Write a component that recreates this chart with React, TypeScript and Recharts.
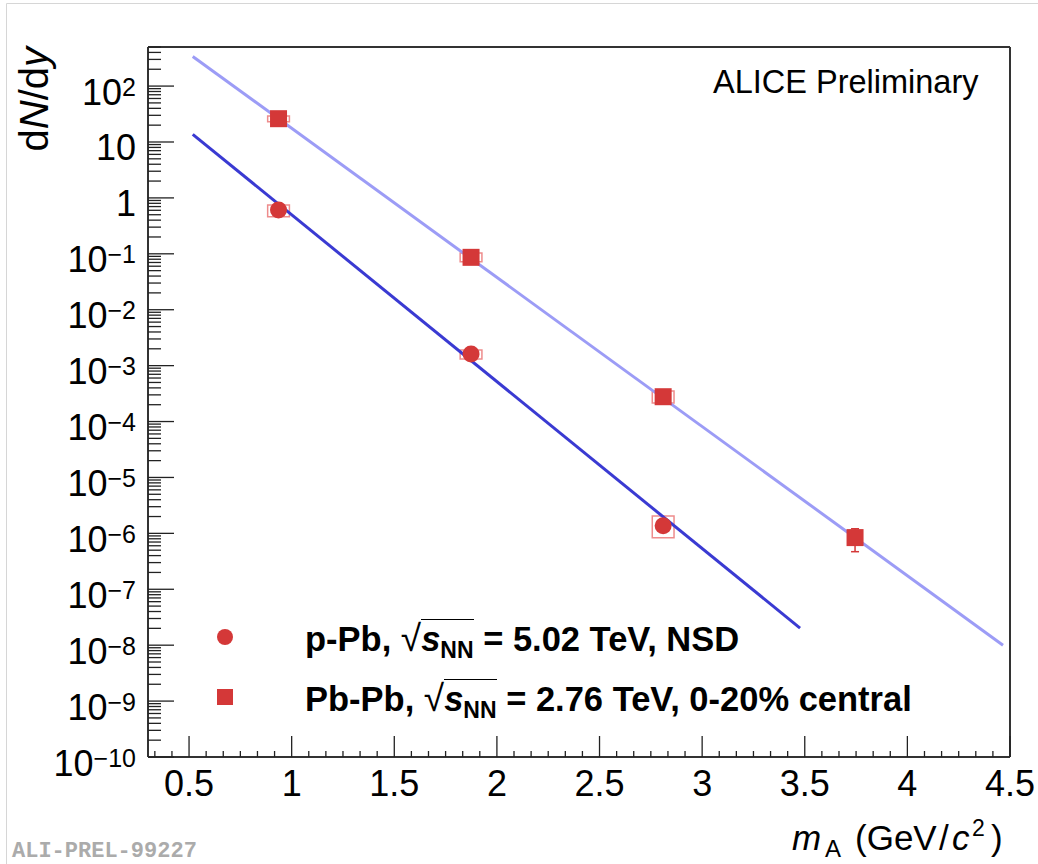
import React from 'react';
import {
  ComposedChart,
  Scatter,
  Line,
  XAxis,
  YAxis,
  ErrorBar,
  ReferenceArea,
  ReferenceLine,
  Legend,
  Label,
} from 'recharts';

// Nucleus masses (GeV/c^2): p, d, 3He, 4He
const nucleusMass = [0.936, 1.874, 2.81, 3.745];

// Pb-Pb, 0-20% central
const pbpbYield = [26.1, 0.0865, 2.78e-4, 8.4e-7];
const pbpbStatErr = [0.4, 0.002, 0.1e-4, 3.7e-7];
const pbpbSysLow = [23.1, 0.0723, 2.14e-4];
const pbpbSysHigh = [29.2, 0.103, 3.52e-4];

// p-Pb, NSD
const ppbYield = [0.607, 1.61e-3, 1.37e-6];
const ppbStatErr = [0.01, 0.03e-3, 0.1e-6];
const ppbSysLow = [0.461, 1.31e-3, 8.34e-7];
const ppbSysHigh = [0.746, 1.9e-3, 2.04e-6];

// Exponential fits, drawn between their end points
const pbpbFitMass = [0.518, 4.466];
const pbpbFitYield = [339, 1.0e-8];
const ppbFitMass = [0.518, 3.477];
const ppbFitYield = [13.7, 2.02e-8];

// Axes
const xMajorTicks = [0.5, 1, 1.5, 2, 2.5, 3, 3.5, 4, 4.5];
const xTickLabels = ['0.5', '1', '1.5', '2', '2.5', '3', '3.5', '4', '4.5'];
const yDecades = [-10, -9, -8, -7, -6, -5, -4, -3, -2, -1, 0, 1, 2];
const xDomain: [number, number] = [0.3, 4.5];
const yDomain: [number, number] = [1e-10, 500];

const legendRows = [
  { marker: 'circle', system: 'p-Pb', energy: '5.02', tail: 'NSD' },
  { marker: 'square', system: 'Pb-Pb', energy: '2.76', tail: '0-20% central' },
];

const RED = '#d43838';
const BOX = '#ee8c8c';
const LIGHT_BLUE = '#9c9cf6';
const DARK_BLUE = '#3a3ad2';
const FRAME = '#333333';
const TICK = '#222222';
const FONT = '"Liberation Sans", Arial, Helvetica, sans-serif';

const SYS_HALF_WIDTH = 0.053;

const pbpbPoints = nucleusMass.map((x, i) => ({ x, y: pbpbYield[i], err: pbpbStatErr[i] }));
const ppbPoints = ppbYield.map((y, i) => ({ x: nucleusMass[i], y, err: ppbStatErr[i] }));
const pbpbFit = pbpbFitMass.map((x, i) => ({ x, y: pbpbFitYield[i] }));
const ppbFit = ppbFitMass.map((x, i) => ({ x, y: ppbFitYield[i] }));

// minor ticks: x every 1/12, y at 2..9 within each decade
const xTicks: number[] = [];
for (let k = -2; k <= 48; k++) xTicks.push(0.5 + k / 12);
const yTicks: number[] = [];
yDecades.forEach((d) => {
  for (let m = 1; m <= 9; m++) {
    const v = m * Math.pow(10, d);
    if (v <= yDomain[1] * 1.0001) yTicks.push(v);
  }
});

const CircleMarker = (p: any) =>
  p.cx == null ? null : <circle cx={p.cx} cy={p.cy} r={8.5} fill={RED} />;
const SquareMarker = (p: any) =>
  p.cx == null ? null : (
    <rect x={p.cx - 8.5} y={p.cy - 8.5} width={17} height={17} fill={RED} />
  );

function powerLabel(n: number, x: number, y: number) {
  if (n === 0 || n === 1) {
    return (
      <text x={x} y={y} textAnchor="end" fontSize={36} fontFamily={FONT} fill="#000">
        {n === 0 ? '1' : '10'}
      </text>
    );
  }
  const exp = n < 0 ? '\u2212' + Math.abs(n) : String(n);
  return (
    <text x={x} y={y} textAnchor="end" fontSize={36} fontFamily={FONT} fill="#000">
      10
      <tspan dy={-9} fontSize={25}>
        {exp}
      </tspan>
    </text>
  );
}

const YTick = (props: any) => {
  const { x, y, payload } = props;
  const v = payload.value;
  const e = Math.log10(v);
  const major = Math.abs(e - Math.round(e)) < 1e-6;
  return (
    <g>
      <line x1={x} y1={y} x2={x + (major ? 26 : 13)} y2={y} stroke={TICK} strokeWidth={1.3} />
      {major && powerLabel(Math.round(e), x - 12, y + 18.5)}
    </g>
  );
};

const XTick = (props: any) => {
  const { x, y, payload } = props;
  const v = payload.value;
  const idx = xMajorTicks.findIndex((t) => Math.abs(t - v) < 1e-6);
  const major = idx >= 0;
  return (
    <g>
      <line x1={x} y1={y} x2={x} y2={y - (major ? 21 : 6)} stroke={TICK} strokeWidth={1.3} />
      {major && (
        <text x={x} y={y + 39} textAnchor="middle" fontSize={36} fontFamily={FONT} fill="#000">
          {xTickLabels[idx]}
        </text>
      )}
    </g>
  );
};

// x-axis title, laid out from the right end of the axis
const XTitle = (props: any) => {
  const vb = props.viewBox || { x: 148, y: 757, width: 862, height: 60 };
  const r = vb.x + vb.width;
  const base = vb.y + 93;
  return (
    <text y={base} fontSize={35} fontFamily={FONT} fill="#000" style={{ whiteSpace: 'pre' }}>
      <tspan x={r - 218} y={base} fontStyle="italic">
        m
      </tspan>
      <tspan x={r - 185} y={base + 7} fontSize={24}>
        A
      </tspan>
      <tspan x={r - 155} y={base}>
        (GeV
      </tspan>
      <tspan x={r - 71} y={base}>
        /
      </tspan>
      <tspan x={r - 58} y={base} fontStyle="italic">
        c
      </tspan>
      <tspan x={r - 38} y={base - 14} fontSize={23}>
        2
      </tspan>
      <tspan x={r - 19} y={base}>
        )
      </tspan>
    </text>
  );
};

const YTitle = (props: any) => {
  const vb = props.viewBox || { x: 0, y: 47, width: 148, height: 710 };
  return (
    <text
      transform={`translate(${vb.x + 48}, ${vb.y}) rotate(-90)`}
      textAnchor="end"
      fontSize={40}
      fontFamily={FONT}
      fill="#000"
    >
      d<tspan fontStyle="italic">N</tspan>/d<tspan fontStyle="italic">y</tspan>
    </text>
  );
};

const LegendContent = () => (
  <div style={{ position: 'relative', width: 760, height: 130, fontFamily: FONT }}>
    {legendRows.map((row, i) => {
      const baseline = 51 + i * 60;
      const markerY = 37 + i * 60;
      return (
        <React.Fragment key={row.system}>
          <svg
            width={24}
            height={24}
            style={{ position: 'absolute', left: 35 - 12, top: markerY - 12 }}
          >
            {row.marker === 'circle' ? (
              <circle cx={12} cy={12} r={8} fill={RED} />
            ) : (
              <rect x={4} y={4} width={16} height={16} fill={RED} />
            )}
          </svg>
          <div
            style={{
              position: 'absolute',
              left: 115,
              top: baseline - 32,
              fontSize: 34.5,
              lineHeight: '40px',
              fontWeight: 'bold',
              whiteSpace: 'pre',
              color: '#000',
            }}
          >
            <span>{row.system + ', '}</span>
            <span style={{ fontWeight: 'normal', fontSize: 37 }}>{'\u221A'}</span>
            <span style={{ borderTop: '1.5px solid #000' }}>
              <i>s</i>
              <span style={{ fontSize: 23, verticalAlign: '-7px', lineHeight: 0 }}>NN</span>
            </span>
            <span>{' = ' + row.energy + ' TeV, ' + row.tail}</span>
          </div>
        </React.Fragment>
      );
    })}
  </div>
);

export default function App() {
  return (
    <div
      style={{
        position: 'absolute',
        left: 0,
        top: 0,
        width: 1038,
        height: 864,
        background: '#ffffff',
        overflow: 'hidden',
      }}
    >
      <ComposedChart width={1038} height={864} margin={{ top: 47, right: 28, bottom: 47, left: 0 }}>
        <XAxis
          dataKey="x"
          type="number"
          domain={xDomain}
          allowDataOverflow
          ticks={xTicks}
          interval={0}
          tick={<XTick />}
          tickLine={false}
          tickSize={0}
          tickMargin={0}
          axisLine={{ stroke: FRAME, strokeWidth: 2 }}
          height={60}
        >
          <Label content={XTitle} />
        </XAxis>
        <YAxis
          type="number"
          scale="log"
          domain={yDomain}
          allowDataOverflow
          ticks={yTicks}
          interval={0}
          tick={<YTick />}
          tickLine={false}
          tickSize={0}
          tickMargin={0}
          axisLine={{ stroke: FRAME, strokeWidth: 2 }}
          width={148}
        >
          <Label content={YTitle} />
        </YAxis>

        {/* upper and right edges of the frame */}
        <ReferenceLine y={yDomain[1]} stroke={FRAME} strokeWidth={2} ifOverflow="visible" />
        <ReferenceLine x={xDomain[1]} stroke={FRAME} strokeWidth={2} ifOverflow="visible" />

        {pbpbSysLow.map((lo, i) => (
          <ReferenceArea
            key={'pbpb-sys-' + i}
            x1={nucleusMass[i] - SYS_HALF_WIDTH}
            x2={nucleusMass[i] + SYS_HALF_WIDTH}
            y1={lo}
            y2={pbpbSysHigh[i]}
            fill="none"
            fillOpacity={0}
            stroke={BOX}
            strokeWidth={1.5}
            ifOverflow="visible"
          />
        ))}
        {ppbSysLow.map((lo, i) => (
          <ReferenceArea
            key={'ppb-sys-' + i}
            x1={nucleusMass[i] - SYS_HALF_WIDTH}
            x2={nucleusMass[i] + SYS_HALF_WIDTH}
            y1={lo}
            y2={ppbSysHigh[i]}
            fill="none"
            fillOpacity={0}
            stroke={BOX}
            strokeWidth={1.5}
            ifOverflow="visible"
          />
        ))}

        <Scatter
          name="p-Pb"
          data={ppbPoints}
          dataKey="y"
          fill={RED}
          shape={CircleMarker}
          isAnimationActive={false}
        >
          <ErrorBar dataKey="err" direction="y" width={4} stroke={RED} strokeWidth={1.5} />
        </Scatter>
        <Scatter
          name="Pb-Pb"
          data={pbpbPoints}
          dataKey="y"
          fill={RED}
          shape={SquareMarker}
          isAnimationActive={false}
        >
          <ErrorBar dataKey="err" direction="y" width={4} stroke={RED} strokeWidth={1.5} />
        </Scatter>

        <Line
          data={ppbFit}
          dataKey="y"
          type="linear"
          stroke={DARK_BLUE}
          strokeWidth={3}
          dot={false}
          activeDot={false}
          legendType="none"
          isAnimationActive={false}
        />
        <Line
          data={pbpbFit}
          dataKey="y"
          type="linear"
          stroke={LIGHT_BLUE}
          strokeWidth={3}
          dot={false}
          activeDot={false}
          legendType="none"
          isAnimationActive={false}
        />

        <Legend
          layout="horizontal"
          verticalAlign="middle"
          align="center"
          content={<LegendContent />}
          wrapperStyle={{ left: 190, top: 600, width: 760, height: 130 }}
        />
      </ComposedChart>

      <svg
        width={1038}
        height={864}
        style={{ position: 'absolute', left: 0, top: 0, pointerEvents: 'none' }}
      >
        <line x1={6.5} y1={3.5} x2={1038} y2={3.5} stroke="#d6d6d6" strokeWidth={1} />
        <line x1={6.5} y1={3.5} x2={6.5} y2={864} stroke="#d6d6d6" strokeWidth={1} />
        <text x={713} y={93} fontSize={32.5} fontFamily={FONT} fill="#000">
          ALICE Preliminary
        </text>
        <text
          x={12}
          y={857}
          fontSize={22}
          fontWeight="bold"
          fontFamily='"Liberation Mono", "DejaVu Sans Mono", monospace'
          fill="#ababab"
        >
          ALI-PREL-99227
        </text>
      </svg>
    </div>
  );
}
